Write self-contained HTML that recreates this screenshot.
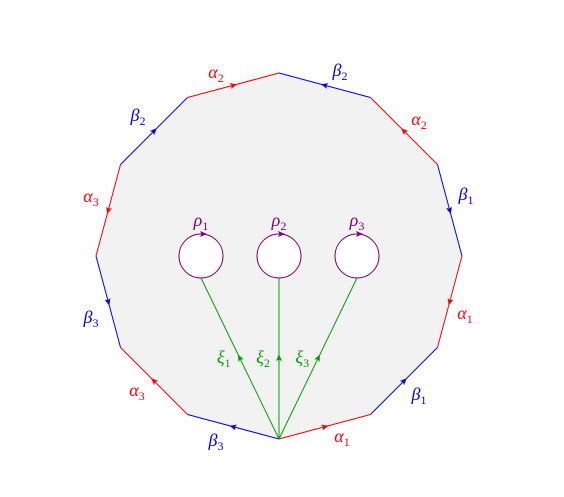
<!DOCTYPE html>
<html><head><meta charset="utf-8"><style>
html,body{margin:0;padding:0;background:#fff;}
svg{display:block;}
text{font-family:"Liberation Serif",serif;font-style:italic;font-size:18px;}
.sub{font-size:12px;font-style:normal;}
</style></head><body>
<svg id="fig" width="564" height="497" viewBox="0 0 564 497"></svg>
<script>
const CX=279, CY=256, R=183;
const edgeColors=["blue","red","blue","red","blue","red","blue","red","blue","red","blue","red"];
const edgeGreek=["β","α","β","α","β","α","β","α","β","α","β","α"];
const edgeIdx=["2","2","1","1","1","1","3","3","3","3","2","2"];
const edgeDir=[-1,-1,1,1,-1,-1,1,1,-1,-1,1,1];
const holeX=[201,279,357];
const holeIdx=["1","2","3"];
const labelPos=[[340,76],[419,125],[466,200],[465,319],[419,400],[342,442],[216,446],[137,396],[91,323],[91,202],[138,121],[216,78]];
const NS="http://www.w3.org/2000/svg";
const svg=document.getElementById("fig");
function mk(t,a,p){const e=document.createElementNS(NS,t);for(const k in a)e.setAttribute(k,a[k]);(p||svg).appendChild(e);return e;}
const col={blue:"#0000ff",red:"#ff0000",green:"#00a000",purple:"#800080"};
function arrow(x,y,ang,c){return mk("path",{d:"M4,0 L-3,-3 L-1.5,0 L-3,3 Z",fill:c,transform:`translate(${x},${y}) rotate(${ang})`});}
function label(x,y,greek,idx,c,name){const t=mk("text",{x:x,y:y,fill:c,"text-anchor":"middle"});t.textContent=greek;const s=document.createElementNS(NS,"tspan");s.setAttribute("class","sub");s.setAttribute("dy","4");s.textContent=idx;t.appendChild(s);}
const V=[];for(let i=0;i<12;i++){const a=-Math.PI/2+i*Math.PI/6;V.push([CX+R*Math.cos(a),CY+R*Math.sin(a)]);}
const poly=mk("polygon",{points:V.map(p=>p.join(",")).join(" "),fill:"#f2f2f2",stroke:"none"});

for(let i=0;i<12;i++){
 const a=V[i],b=V[(i+1)%12],c=col[edgeColors[i]];
 const l=mk("line",{x1:a[0],y1:a[1],x2:b[0],y2:b[1],stroke:c,"stroke-width":1});
 
 const mx=(a[0]+b[0])/2,my=(a[1]+b[1])/2;
 let ang=Math.atan2(b[1]-a[1],b[0]-a[0])*180/Math.PI; if(edgeDir[i]<0)ang+=180;
 arrow(mx,my,ang,c);
 label(labelPos[i][0],labelPos[i][1],edgeGreek[i],edgeIdx[i],c,'edge-label-'+(i+1));
}
const BX=V[6][0],BY=V[6][1],hr=22;
for(let k=0;k<3;k++){
 const hx=holeX[k];
 const c=mk("circle",{cx:hx,cy:CY,r:hr,fill:"#fff",stroke:col.purple,"stroke-width":1});
 
 arrow(hx+2,CY-hr,0,col.purple);
 label(hx,CY-30,"ρ",holeIdx[k],col.purple,'rho-label-'+(k+1));
 const ex=hx,ey=CY+hr;
 const l=mk("line",{x1:BX,y1:BY,x2:ex,y2:ey,stroke:col.green,"stroke-width":1});
 
 const t=(BY-358)/(BY-ey);
 arrow(BX+(ex-BX)*t,358,Math.atan2(ey-BY,ex-BX)*180/Math.PI,col.green);
 label(BX+(ex-BX)*t-16,363,"ξ",holeIdx[k],col.green,'xi-label-'+(k+1));
}
</script>
</body></html>
